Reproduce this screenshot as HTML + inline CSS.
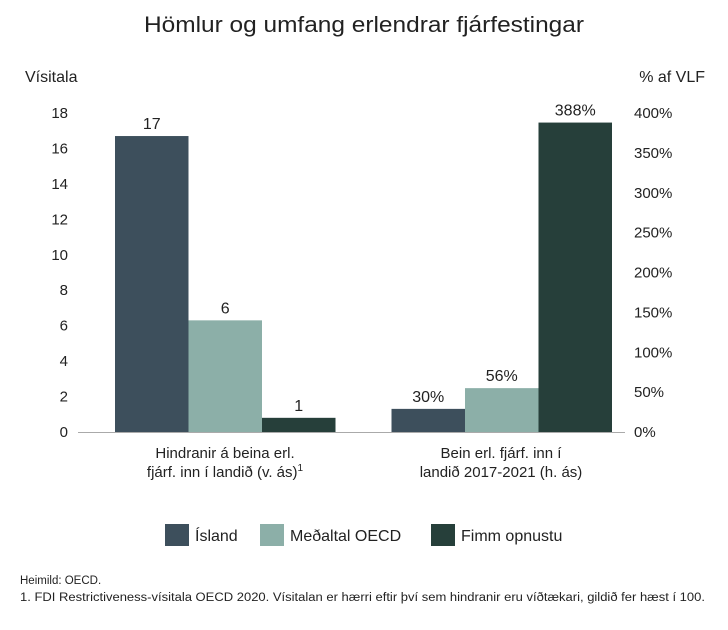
<!DOCTYPE html>
<html><head><meta charset="utf-8"><style>
body{margin:0;background:#fff;font-family:"Liberation Sans",sans-serif;}
svg text{font-family:"Liberation Sans",sans-serif;fill:#222;}
</style></head><body>
<svg width="728" height="625" xmlns="http://www.w3.org/2000/svg">
<text x="364" y="32" font-size="22" text-anchor="middle" textLength="440" lengthAdjust="spacingAndGlyphs">Hömlur og umfang erlendrar fjárfestingar</text>
<text x="25" y="82" font-size="16">Vísitala</text>
<text x="705" y="82" font-size="16" text-anchor="end">% af VLF</text>
<g id="leftTicks"></g><g id="rightTicks"></g><g id="bars"></g>
<line x1="78" y1="432.5" x2="625" y2="432.5" stroke="#aaa"/>
<text x="225" y="458" font-size="15" text-anchor="middle">Hindranir á beina erl.</text>
<text x="225" y="477" font-size="15" text-anchor="middle">fjárf. inn í landið (v. ás)<tspan font-size="10" dy="-6">1</tspan></text>
<text x="501" y="458" font-size="15" text-anchor="middle">Bein erl. fjárf. inn í</text>
<text x="501" y="477" font-size="15" text-anchor="middle">landið 2017-2021 (h. ás)</text>
<g>
<rect x="165" y="524" width="24" height="22" fill="#3d4f5c"/>
<text x="195" y="541" font-size="16">Ísland</text>
<rect x="260" y="524" width="24" height="22" fill="#8cafa8"/>
<text x="290" y="541" font-size="16">Meðaltal OECD</text>
<rect x="431" y="524" width="24" height="22" fill="#263f3a"/>
<text x="461" y="541" font-size="16">Fimm opnustu</text>
</g>
<text x="20" y="584" font-size="11.5">Heimild: OECD.</text>
<text x="20" y="601" font-size="11.5" textLength="685" lengthAdjust="spacingAndGlyphs">1. FDI Restrictiveness-vísitala OECD 2020. Vísitalan er hærri eftir því sem hindranir eru víðtækari, gildið fer hæst í 100.</text>
</svg>
<script>
const leftTicks=[0,2,4,6,8,10,12,14,16,18];
const rightTicks=[0,50,100,150,200,250,300,350,400];
const seriesNames=["island","oecd","fimm"];
const colors=["#3d4f5c","#8cafa8","#263f3a"];
const indexValues=[16.7,6.3,0.8];
const indexLabels=["17","6","1"];
const fdiValues=[29,55,388];
const fdiLabels=["30%","56%","388%"];
const NS="http://www.w3.org/2000/svg";
const y0=432,yTop=113;
const yL=v=>y0-(v/18)*(y0-yTop);
const yR=v=>y0-(v/400)*(y0-yTop);
function mk(t,a,p){const e=document.createElementNS(NS,t);for(const k in a)e.setAttribute(k,a[k]);p.appendChild(e);return e;}
const lt=document.getElementById('leftTicks');
leftTicks.forEach(v=>{const t=mk('text',{x:68,y:yL(v)+5,'font-size':15,'text-anchor':'end'},lt);t.textContent=v;

});
const rt=document.getElementById('rightTicks');
rightTicks.forEach(v=>{const t=mk('text',{x:634,y:yR(v)+5,'font-size':15},rt);t.textContent=v+'%';

});
const bg=document.getElementById('bars');
const bw=73.5;
function group(vals,labs,scale,x0,g){vals.forEach((v,i)=>{const x=x0+i*bw,y=scale(v);
const r=mk('rect',{x:x,y:y,width:bw,height:y0-y,fill:colors[i]},bg);


const t=mk('text',{x:x+bw/2,y:y-7,'font-size':16,'text-anchor':'middle'},bg);t.textContent=labs[i];

});}
group(indexValues,indexLabels,yL,115,'index');
group(fdiValues,fdiLabels,yR,391.5,'fdi');
</script>
</body></html>
